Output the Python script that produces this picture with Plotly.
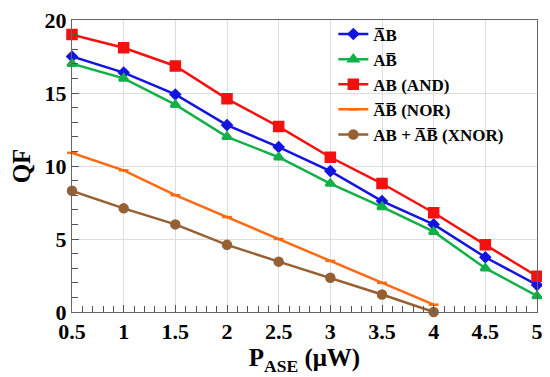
import plotly.graph_objects as go

x = [0.5, 1, 1.5, 2, 2.5, 3, 3.5, 4, 4.5, 5]
x_short = [0.5, 1, 1.5, 2, 2.5, 3, 3.5, 4]
abar_b = [17.5, 16.4, 14.9, 12.8, 11.3, 9.65, 7.6, 6.0, 3.75, 1.85]
a_bbar = [17.0, 16.0, 14.2, 12.0, 10.6, 8.8, 7.2, 5.5, 3.0, 1.1]
ab_and = [19.0, 18.1, 16.85, 14.6, 12.7, 10.6, 8.8, 6.8, 4.6, 2.45]
nor = [10.9, 9.7, 8.0, 6.5, 5.0, 3.5, 2.0, 0.5]
xnor = [8.3, 7.1, 6.0, 4.6, 3.45, 2.35, 1.2, 0.0]

OL = "\u0305"
names = [f"<b>A{OL}B</b>", f"<b>AB{OL}</b>", "<b>AB (AND)</b>", f"<b>A{OL}B{OL} (NOR)</b>", f"<b>AB + A{OL}B{OL} (XNOR)</b>"]

font = "Liberation Serif"
fig = go.Figure()
series = [
    (x, abar_b, names[0], "#1414e0", "diamond", 7),
    (x, a_bbar, names[1], "#12b048", "triangle-up", 8),
    (x, ab_and, names[2], "#f51010", "square", 9),
    (x_short, nor, names[3], "#ff6a10", "line-ew", 7),
    (x_short, xnor, names[4], "#966034", "circle", 8),
]
for xs, ys, nm, col, sym, sz in series:
    fig.add_trace(go.Scatter(
        x=xs, y=ys, name=nm, mode="lines+markers",
        line=dict(color=col, width=2.5),
        marker=dict(symbol=sym, size=sz, color=col, line=dict(color=col, width=2.5)),
        cliponaxis=False,
    ))

fig.update_layout(
    width=542, height=369,
    margin=dict(l=64, r=13, t=9, b=65),
    paper_bgcolor="white", plot_bgcolor="white",
    font=dict(family=font, color="black"),
    showlegend=True,
    legend=dict(x=0.562, y=1.012, xanchor="left", yanchor="top",
                bgcolor="rgba(0,0,0,0)", font=dict(size=17, family=font, color="black"),
                itemwidth=30, tracegroupgap=0),
)
fig.update_xaxes(
    range=[0.5, 5], tickmode="linear", tick0=0.5, dtick=0.5, tickformat="~g",
    tickprefix="<b>", ticksuffix="</b>",
    tickfont=dict(size=22, family=font), ticklabeloverflow="allow",
    showgrid=True, gridcolor="#dddddd", gridwidth=1,
    showline=True, linecolor="#666666", linewidth=1, mirror=True,
    ticks="inside", ticklen=7, tickwidth=1, tickcolor="#555555", zeroline=False,
    minor=dict(tickmode="linear", dtick=0.1, tick0=0.5, ticks="inside", ticklen=6, tickwidth=1,
               tickcolor="#555555", showgrid=False),
    title=dict(text="<b>P<sub>ASE</sub> (μW)</b>", font=dict(size=25, family=font), standoff=0),
    automargin=False, layer="above traces",
)
fig.update_yaxes(
    range=[0, 20], tickmode="linear", tick0=0, dtick=5,
    tickprefix="<b>", ticksuffix="</b>",
    tickfont=dict(size=22, family=font), ticklabeloverflow="allow",
    showgrid=True, gridcolor="#dddddd", gridwidth=1,
    showline=True, linecolor="#666666", linewidth=1, mirror=True,
    ticks="inside", ticklen=7, tickwidth=1, tickcolor="#555555", zeroline=False,
    minor=dict(tickmode="linear", dtick=1, tick0=0, ticks="inside", ticklen=6, tickwidth=1,
               tickcolor="#555555", showgrid=False),
    title=dict(text="<b>QF</b>", font=dict(size=25, family=font), standoff=12),
    automargin=False, layer="above traces",
)
fig.write_html("out.html")
